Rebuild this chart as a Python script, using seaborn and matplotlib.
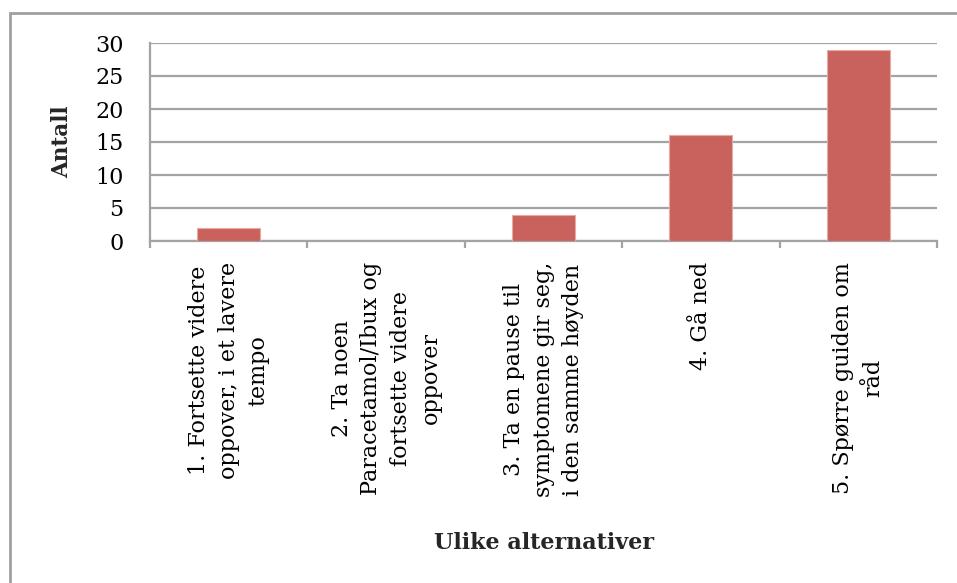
import matplotlib
matplotlib.use("Agg")
import matplotlib.pyplot as plt
from matplotlib.patches import Rectangle
from matplotlib.ticker import FixedLocator
import seaborn as sns
import pandas as pd

categories = [
    "1. Fortsette videre\noppover, i et lavere\ntempo",
    "2. Ta noen\nParacetamol/Ibux og\nfortsette videre\noppover",
    "3. Ta en pause til\nsymptomene gir seg,\ni den samme høyden",
    "4. Gå ned",
    "5. Spørre guiden om\nråd",
]
values = [2, 0, 4, 16, 29]
y_ticks = [0, 5, 10, 15, 20, 25, 30]

sns.set_theme(style="white")
plt.rcParams["font.family"] = ["DejaVu Serif"]

W, H = 957, 583
fig = plt.figure(figsize=(W / 100, H / 100), dpi=100)
fig.patch.set_facecolor("white")

# outer chart frame
fig.patches.append(Rectangle((10 / W, -0.05), 1.1, 1 - 13 / H + 0.05,
                             transform=fig.transFigure, fill=False,
                             edgecolor="#A0A0A0", linewidth=2, zorder=0))

ax = fig.add_axes([150 / W, 1 - 241 / H, (937 - 150) / W, (241 - 43) / H])
df = pd.DataFrame({"alt": categories, "antall": values})
sns.barplot(data=df, x="alt", y="antall", ax=ax, width=0.4,
            color="#C9625C", saturation=1, edgecolor="#E8A8A4",
            linewidth=0.8, zorder=3)

grid = "#A3A3A3"
ax.set_ylim(0, 30)
ax.set_xlim(-0.5, len(categories) - 0.5)
ax.set_yticks(y_ticks)
ax.yaxis.grid(True, color=grid, linewidth=1.6, zorder=0)
ax.set_axisbelow(True)
for s in ["top", "right"]:
    ax.spines[s].set_visible(False)
for s in ["left", "bottom"]:
    ax.spines[s].set_color(grid)
    ax.spines[s].set_linewidth(1.6)

ax.tick_params(axis="y", length=6, width=1.6, color=grid, pad=13,
               labelsize=16, labelcolor="black")
ax.tick_params(axis="x", which="major", length=0, pad=15,
               labelsize=16, labelcolor="black")
ax.xaxis.set_minor_locator(FixedLocator([i - 0.5 for i in range(len(categories) + 1)]))
ax.tick_params(axis="x", which="minor", length=5, width=1.6, color=grid,
               direction="out", bottom=True)
for lbl in ax.get_xticklabels():
    lbl.set_rotation(90)
    lbl.set_ha("center")
    lbl.set_va("top")
    lbl.set_multialignment("center")
    lbl.set_linespacing(1.45)

ax.set_xlabel("")
ax.set_ylabel("")
fig.text(62 / W, 1 - 142 / H, "Antall", rotation=90, ha="center", va="center",
         fontsize=15.5, fontweight="bold")
fig.text(544 / W, 1 - 543 / H, "Ulike alternativer", ha="center", va="center",
         fontsize=16, fontweight="bold")

fig.savefig("out.png", dpi=100, facecolor="white")
